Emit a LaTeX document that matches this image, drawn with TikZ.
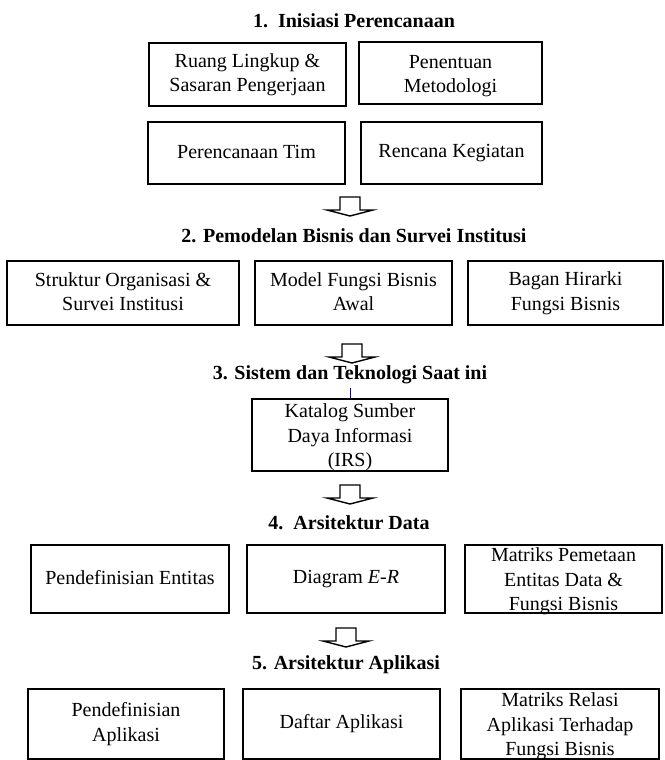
\documentclass[tikz,border=0pt]{standalone}
\usepackage{fontspec}
\setmainfont{Liberation Serif}
\newcommand{\ms}{\rule[-3pt]{0pt}{16pt}}
\newcommand{\mt}{\rule[-3pt]{0pt}{22pt}}
\begin{document}
\begin{tikzpicture}[x=1pt,y=-1pt,
  box/.style={draw, line width=1.6pt, align=center, inner sep=0pt, font=\fontsize{20}{24.5}\selectfont},
  tall/.style={inner ysep=-8pt},
  ttl/.style={anchor=base, inner sep=0pt, font=\fontsize{20}{24}\selectfont\bfseries},
  arrowline/.style={draw, line width=1.4pt, line join=miter},
  downarrow/.pic={\draw[arrowline] (-10,0) -- (10,0) -- (10,13) -- (23,13) -- (0,19) -- (-23,13) -- (-10,13) -- cycle;},
  tick/.style={draw=blue, line width=0.9pt}
]
\useasboundingbox (0,0) rectangle (664,760);

% Section 1
\node[ttl] (t1) at (354,28) {1.\ \ Inisiasi Perencanaan};
\node[box, minimum width=197pt, minimum height=63pt] (a1) at (247.5,74.5) {\ms Ruang Lingkup \&\\\ms Sasaran Pengerjaan};
\node[box, minimum width=183pt, minimum height=62pt] (a2) at (450.5,73) {\mt Penentuan\\\ms Metodologi};
\node[box, minimum width=197pt, minimum height=62pt] (a3) at (246.5,153) {\ms Perencanaan Tim};
\node[box, minimum width=181pt, minimum height=62pt] (a4) at (451.5,153) {\ms Rencana Kegiatan};
\pic (ar1) at (350,197) {downarrow};

% Section 2
\node[ttl] (t2) at (354,242) {2. Pemodelan Bisnis dan Survei Institusi};
\node[box, minimum width=232pt, minimum height=64pt] (b1) at (123,293) {\ms Struktur Organisasi \&\\\ms Survei Institusi};
\node[box, minimum width=197pt, minimum height=64pt] (b2) at (353.5,293) {\ms Model Fungsi Bisnis\\\ms Awal};
\node[box, minimum width=195pt, minimum height=64pt] (b3) at (565.5,293) {\ms Bagan Hirarki\\\ms Fungsi Bisnis};
\pic (ar2) at (352,344) {downarrow};

% Section 3
\node[ttl] (t3) at (350,379) {3. Sistem dan Teknologi Saat ini};
\node[box, tall, minimum width=196pt, minimum height=72pt] (irs) at (350,435) {\mt Katalog Sumber\\\ms Daya Informasi\\\ms (IRS)};
\draw[tick] (irs.north) -- ++(0,-10);
\pic (ar3) at (350,485) {downarrow};

% Section 4
\node[ttl] (t4) at (349,529) {4.\ \ Arsitektur Data};
\node[box, minimum width=198pt, minimum height=68pt] (c1) at (130,579) {\ms Pendefinisian Entitas};
\node[box, minimum width=198pt, minimum height=68pt] (c2) at (346,579) {\ms Diagram \textit{E-R}};
\node[box, tall, minimum width=197pt, minimum height=68pt] (c3) at (563.5,579) {\mt Matriks Pemetaan\\\ms Entitas Data \&\\\ms Fungsi Bisnis};
\pic (ar4) at (346,628) {downarrow};

% Section 5
\node[ttl] (t5) at (346,669) {5. Arsitektur Aplikasi};
\node[box, minimum width=196pt, minimum height=70pt] (d1) at (126,724) {\ms Pendefinisian\\\ms Aplikasi};
\node[box, minimum width=197pt, minimum height=70pt] (d2) at (341.5,724) {\ms Daftar Aplikasi};
\node[box, tall, minimum width=198pt, minimum height=70pt] (d3) at (560,724) {\mt Matriks Relasi\\\ms Aplikasi Terhadap\\\ms Fungsi Bisnis};
\end{tikzpicture}
\end{document}
